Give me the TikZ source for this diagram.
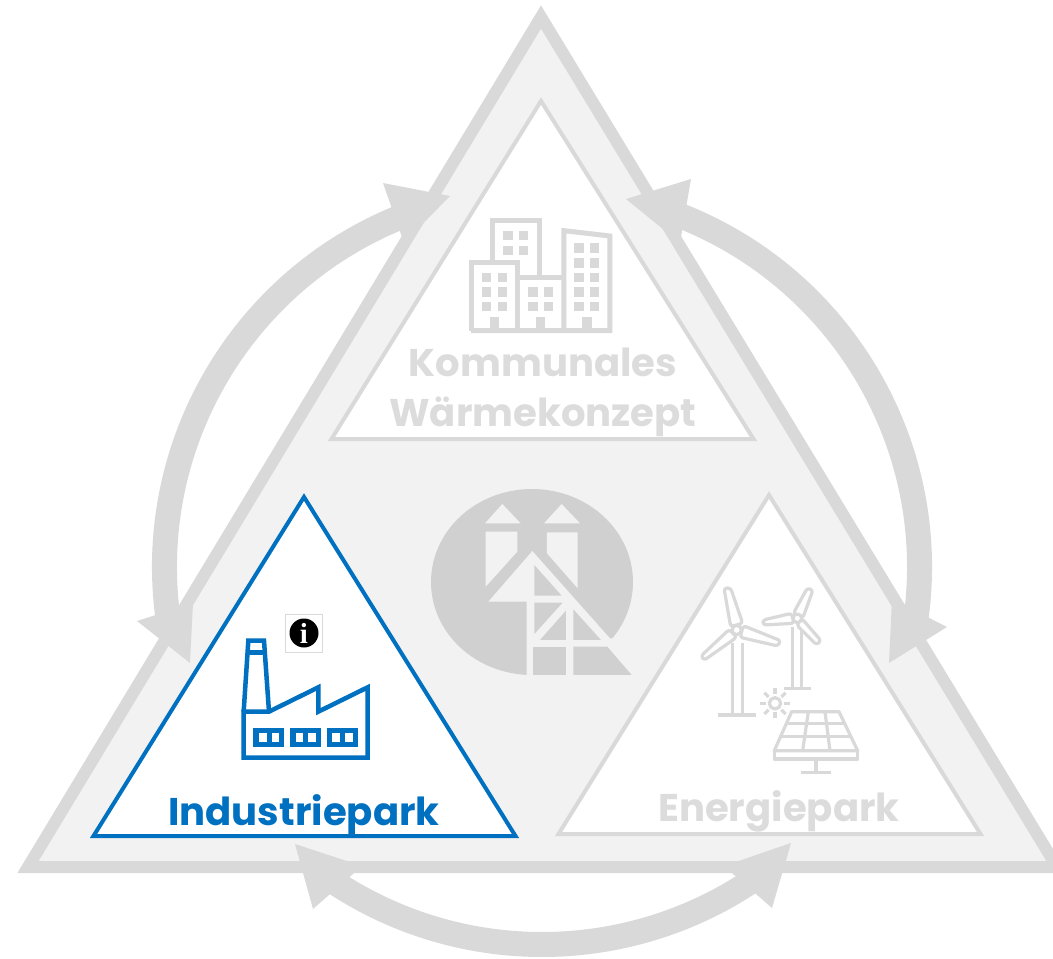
\documentclass[tikz,border=0pt]{standalone}
\usepackage{fontspec}
\setmainfont{Poppins Bold}
\newfontfamily\infofont{Liberation Serif}[Scale=1]
\tikzset{
  ring/.style={draw=ringgray,line width=25pt},
  head/.style={fill=ringgray},
  icongray/.style={draw=ringgray,line width=3.2pt,line join=round},
  blade/.style={icongray,rounded corners=3pt},
  iconblue/.style={draw=parkblue,line width=4.5pt,line join=miter},
  parktext/.style={font=\fontsize{38.6}{39}\selectfont,anchor=base,inner sep=0pt},
}
\definecolor{ringgray}{HTML}{D9D9D9}
\definecolor{bandgray}{HTML}{F2F2F2}
\definecolor{logogray}{HTML}{D0D0D0}
\definecolor{textgray}{HTML}{DCDCDC}
\definecolor{parkblue}{HTML}{0070C0}
\begin{document}
\begin{tikzpicture}[x=1pt,y=1pt,yscale=-1]
\useasboundingbox (0,0) rectangle (1053,959);
\clip (0,0) rectangle (1053,959);
% big triangle
\draw[draw=ringgray,fill=bandgray,line width=12pt,miter limit=10] (541,17) -- (28,867) -- (1057,867) -- cycle;
% ring arrows
\coordinate (ringcentre) at (542,567);
\draw[ring] (ringcentre) ++(170:377.5) arc[start angle=170,delta angle=80,radius=377.5];
\draw[ring] (ringcentre) ++(10:377.5) arc[start angle=10,delta angle=-80,radius=377.5];
\draw[ring] (ringcentre) ++(125:377.5) arc[start angle=125,delta angle=-70,radius=377.5];
\fill[head] (383,183) -- (450,196) -- (404,243) -- cycle;
\fill[head] (137,621) -- (193,603) -- (190,663) -- cycle;
\fill[head] (691,179) -- (626,199) -- (680,243) -- cycle;
\fill[head] (947,627) -- (892,599) -- (889,663) -- cycle;
\fill[head] (295,844) -- (313,909) -- (362,866) -- cycle;
\fill[head] (791,843) -- (772,908) -- (724,866) -- cycle;
% inner triangles
\draw[draw=ringgray,fill=white,line width=4pt] (541,101) -- (331.5,439) -- (753.5,439) -- cycle;
\draw[draw=ringgray,fill=white,line width=4pt] (769,495) -- (558.5,834) -- (980.5,834) -- cycle;
\draw[draw=parkblue,fill=white,line width=4pt] (304,497) -- (93.5,836) -- (515.5,836) -- cycle;
% logo
\fill[logogray] (532,582) ellipse[x radius=101,y radius=93];
\begin{scope}[shift={(420,480)},x=0.3333pt,y=0.3333pt]
\fill[bandgray] (247,72) -- (302,130) -- (195,130) -- cycle;
\fill[bandgray] (425,72) -- (480,130) -- (372,130) -- cycle;
\fill[bandgray] (197,155) -- (292,155) -- (292,215) -- (197,320) -- cycle;
\fill[bandgray] (381,157) -- (473,157) -- (473,325) -- (381,220) -- cycle;
\fill[bandgray] (337,213) -- (570,475) -- (690,475) -- (690,600) -- (320,600) -- (320,365) -- (205,365) -- cycle;
\fill[logogray] (343,255) -- (425,347) -- (343,347) -- cycle;
\fill[logogray] (343,368) -- (428,368) -- (343,462) -- cycle;
\fill[logogray] (438,392) -- (438,480) -- (360,480) -- cycle;
\fill[logogray] (460,388) -- (543,480) -- (460,480) -- cycle;
\fill[logogray] (340,500) -- (437,500) -- (437,585) -- (340,585) -- cycle;
\fill[logogray] (460,500) -- (562,500) -- (635,585) -- (460,585) -- cycle;
\end{scope}
% factory
\begin{scope}[shift={(220,610)},x=0.3333pt,y=0.3333pt]
\draw[iconblue] (71,443) -- (71,305) -- (147,305) -- (295,232) -- (295,305) -- (443,232) -- (443,443) -- cycle;
\draw[iconblue] (71,305) -- (85,92) -- (132,92) -- (147,305);
\draw[iconblue] (85,127) -- (132,127);
\foreach \wx in {100,210,320}{
  \fill[parkblue] (\wx,353) rectangle +(93,57);
  \fill[white] (\wx+17,370) rectangle +(23,25);
  \fill[white] (\wx+55,370) rectangle +(23,25);
}
\end{scope}
% info
\draw[draw=ringgray,fill=white,line width=0.8pt] (285.5,614.5) rectangle (322.5,652);
\node[circle,fill=black,minimum size=29pt,inner sep=0pt,text=white,font=\infofont\bfseries\fontsize{29}{29}\selectfont] (info) at (304,633) {i};
% wind and sun
\begin{scope}[shift={(690,580)},x=0.3333pt,y=0.3333pt]
\draw[icongray] (128,190) -- (128,403) (158,190) -- (158,403);
\draw[icongray] (85,405) -- (198,405);
\draw[blade] (122,140) -- (102,24) -- (122,24) -- (158,130) -- cycle;
\draw[blade] (160,137) -- (272,182) -- (264,198) -- (150,172) -- cycle;
\draw[blade] (118,148) -- (33,228) -- (42,241) -- (140,172) -- cycle;
\draw[icongray,fill=white] (140,150) circle[radius=14];
\draw[icongray] (308,140) -- (308,323) (335,150) -- (335,323);
\draw[icongray] (282,325) -- (363,325);
\draw[blade] (310,100) -- (352,24) -- (369,30) -- (338,115) -- cycle;
\draw[blade] (305,100) -- (219,120) -- (219,135) -- (312,130) -- cycle;
\draw[blade] (335,115) -- (393,182) -- (380,195) -- (320,135) -- cycle;
\draw[icongray,fill=white] (322,115) circle[radius=13];
\draw[icongray] (255,370) circle[radius=17];
\foreach \sa in {0,45,...,315}
  \draw[icongray] (255,370) ++(\sa:27) -- ++(\sa:18);
\draw[icongray] (305,395) -- (447,395) -- (503,512) -- (253,512) -- cycle;
\draw[icongray] (253,512) -- (253,537) -- (503,537) -- (503,512);
\draw[icongray] (286,431) -- (466,431) (269,470) -- (484,470);
\draw[icongray] (355,395) -- (338,512) (405,395) -- (420,512);
\draw[icongray] (378,537) -- (378,575) (332,577) -- (422,577);
\end{scope}
% buildings
\begin{scope}[shift={(460,210)},x=0.3333pt,y=0.3333pt]
\draw[draw=ringgray,line width=5pt] (97,150) -- (97,32) -- (238,32) -- (238,200);
\draw[draw=ringgray,line width=5pt] (33,362) -- (33,158) -- (173,158) -- (173,362);
\draw[draw=ringgray,line width=5pt] (173,202) -- (312,202);
\draw[draw=ringgray,line width=5pt] (312,362) -- (312,62) -- (450,78) -- (450,362) -- (33,362);
\foreach \dx in {90,228,367}
  \fill[ringgray] (\dx,320) rectangle +(28,42);
\foreach \wx in {130,177} \foreach \wy in {63,107}
  \fill[ringgray] (\wx,\wy) rectangle +(28,28);
\foreach \wx in {66,113} \foreach \wy in {188,232,276}
  \fill[ringgray] (\wx,\wy) rectangle +(28,28);
\foreach \wx in {205,252} \foreach \wy in {232,276}
  \fill[ringgray] (\wx,\wy) rectangle +(28,28);
\foreach \wx in {343,390} \foreach \wy in {100,145,188,232,276}
  \fill[ringgray] (\wx,\wy) rectangle +(28,28);
\end{scope}
% labels
\node[parktext,text=textgray] (kommunales) at (543,376) {Kommunales};
\node[parktext,text=textgray] (waerme) at (543,426) {Wärmekonzept};
\node[parktext,text=textgray] (energie) at (779,821) {Energiepark};
\node[parktext,text=parkblue] (industrie) at (304,825) {Industriepark};
\end{tikzpicture}
\end{document}
